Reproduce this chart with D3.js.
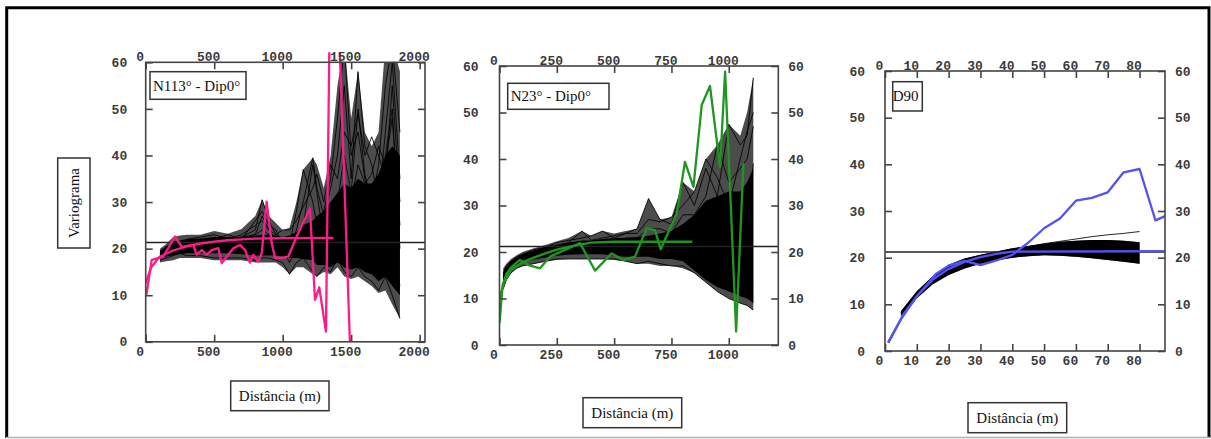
<!DOCTYPE html>
<html>
<head>
<meta charset="utf-8">
<script src="https://cdn.jsdelivr.net/npm/d3@7"></script>
<style>
  html, body { margin: 0; padding: 0; background: #fff; }
  svg { display: block; }
</style>
</head>
<body>
<div id="chart"></div>
<script>
// ---- DATA ----

// Panel 1: N113° - Dip0°
const p1Lags = [104, 150, 200, 250, 300, 400, 500, 600, 700, 800, 850, 900, 950, 1000, 1050, 1100, 1150, 1220, 1250, 1300, 1350, 1400, 1450, 1500, 1550, 1600, 1650, 1700, 1750, 1800, 1856];
const p1SpreadHigh = [20, 21, 22.5, 22.8, 23, 23, 23.8, 23.2, 24.2, 27, 30.5, 27, 25.5, 24, 24.5, 30, 37, 39.5, 38, 33, 40, 55, 64, 48, 58, 45, 42, 45, 64, 64, 58];
const p1SpreadLow = [17, 17.3, 17.5, 18, 18, 18, 17.5, 17.5, 17.5, 17, 17, 17, 17, 16, 14.5, 16, 16, 14.5, 14, 15, 14.5, 16, 14, 13.5, 14, 13, 12, 10.5, 11, 8, 5];
const p1CoreHigh = [19.5, 20.5, 21.5, 21.8, 22, 22.2, 22.5, 22.5, 22.5, 22.8, 23, 23, 22.8, 22.5, 22.8, 23.5, 25, 26, 27, 28, 30, 32, 34, 33, 35, 34, 34, 36, 40, 42, 40];
const p1CoreLow = [18, 18.3, 18.6, 18.8, 19, 19, 19, 19, 18.8, 18.5, 18.5, 18.5, 18.5, 18.3, 18, 18, 17.8, 17.5, 16.5, 16.5, 16, 17, 16, 15.5, 16, 15, 14.5, 13, 14, 12, 10];
const p1SimA = [18.5, 19.5, 20.5, 21, 21.5, 22, 22, 22, 22.5, 24, 30.5, 26, 23, 22, 21, 28, 37, 30, 25, 28, 35, 48, 64, 40, 45, 35, 30, 38, 55, 64, 45];
const p1SimB = [18, 19, 20, 21, 21.5, 21.5, 22, 23, 22, 26, 28, 25, 24, 21, 20, 24, 30, 39.5, 33, 27, 33, 40, 55, 35, 58, 42, 38, 30, 45, 60, 35];
const p1SimC = [19, 20, 21, 21.5, 21, 21, 21.5, 21, 21, 23, 27, 24, 22, 20, 17, 20, 25, 38, 32, 22, 26, 30, 40, 32, 50, 36, 30, 28, 40, 50, 20];
const p1SimD = [17.5, 18, 18.5, 19, 18.5, 18.5, 18, 18, 18, 17.5, 18, 18, 17.5, 17, 14.5, 17, 18, 15, 14, 16, 15, 18, 15, 14, 16, 14, 13, 11, 14, 10, 5];
const p1SimE = [19, 20, 21, 21, 22, 22.5, 23, 22, 23, 25, 26, 24, 23, 24, 24, 26, 29, 33, 36, 30, 38, 35, 45, 42, 49, 40, 44, 40, 35, 55, 30];
const p1SimF = [18, 19, 19.5, 20, 20.5, 20.5, 21, 21.5, 21, 22, 22, 22, 21, 22, 22, 22, 24, 25, 22, 25, 30, 28, 33, 30, 38, 34, 36, 42, 38, 48, 25];
const p1SimG = [18.5, 19.5, 20, 20.5, 21, 21.5, 22, 22, 22.5, 23, 24, 23, 22, 21, 19, 21, 22, 20, 18, 20, 24, 22, 20, 18, 22, 17, 20, 15, 25, 20, 12];
const p1Exp = [[5, 10.1], [44, 17.6], [128, 18.3], [214, 22.6], [263, 20.4], [347, 20.8], [372, 18.7], [409, 19.7], [445, 18.7], [482, 19.7], [530, 20.1], [555, 16.9], [603, 18.7], [640, 20.1], [688, 20.8], [725, 19.7], [761, 17], [785, 18.7], [822, 17.2], [847, 19], [883, 30.1], [920, 21.2], [944, 18], [993, 18], [1041, 18.3], [1102, 22.6], [1199, 28.6], [1236, 9], [1267, 11.7], [1316, 2.2], [1360, 111], [1520, -25]];
const p1Model = [[0, 12.6], [40, 16], [100, 18.2], [200, 19.6], [300, 20.5], [400, 21.1], [500, 21.5], [600, 21.8], [700, 22], [800, 22.15], [1000, 22.25], [1370, 22.3]];
const p1Sill = 21.3;
const p1XTicks = [0, 500, 1000, 1500, 2000];

// Panel 2: N23° - Dip0°
const p2Lags = [16, 30, 50, 75, 100, 150, 200, 250, 300, 360, 400, 450, 500, 550, 600, 650, 700, 750, 800, 850, 900, 950, 1000, 1050, 1080, 1107];
const p2SpreadHigh = [16.5, 17.5, 18.5, 19.3, 20, 20.8, 21.5, 22.3, 23, 24.5, 23.5, 24.5, 24, 24.5, 25, 31.5, 27, 27.5, 35, 33, 40, 43, 47.5, 45, 50, 57.5];
const p2SpreadLow = [12, 14, 15.5, 16.5, 17, 17.5, 18, 18.3, 18.5, 18.5, 18.5, 18.5, 18.3, 18, 17.5, 17.5, 17, 17, 16.5, 15.5, 13.5, 11.5, 10, 9, 8.5, 7.5];
const p2CoreHigh = [15.5, 16.8, 18, 18.8, 19.5, 20.3, 21, 21.5, 22, 22.5, 22.5, 22.8, 23, 23, 23.2, 23.5, 24, 24.5, 26, 28, 31, 32, 33, 33, 35, 38];
const p2CoreLow = [13, 15, 16.3, 17.2, 17.8, 18.4, 18.8, 19.2, 19.4, 19.5, 19.5, 19.5, 19.2, 19, 19, 19, 18.5, 18.5, 18, 16, 14, 12.5, 11.5, 10.5, 10, 9];
const p2SimA = [15, 16.5, 17.5, 18.5, 19, 20, 20.5, 21, 22, 24.5, 22.5, 23, 23.5, 24, 25, 31.5, 27, 26, 35, 30, 38, 32, 47.5, 43, 45, 57.5];
const p2SimB = [14, 16, 17, 18, 19, 20, 21, 22, 22.5, 23, 23.5, 24.5, 23, 24, 24, 27, 26.5, 27.5, 30, 33, 40, 36, 30, 40, 46, 50];
const p2SimC = [15.5, 17, 18, 19, 19.5, 20.5, 21, 21.5, 22, 22, 22, 22.5, 22, 23, 23, 25, 25, 24, 28, 28, 32, 43, 35, 38, 40, 47];
const p2SimD = [12, 14, 15.5, 16.5, 17, 17.5, 18, 18.5, 18.5, 18.5, 18.5, 18.5, 18.5, 18, 17.5, 18, 17.5, 17, 17, 15.5, 13.5, 11.5, 10, 9, 8.5, 7.5];
const p2SimE = [14.5, 16, 17.5, 18.5, 19, 19.5, 20, 20.5, 21, 21.5, 21.5, 21, 21, 22, 23, 22, 23, 21, 24, 22, 25, 20, 16, 12, 25, 39];
const p2Exp = [[0, 4.7], [14, 13], [31, 15.4], [53, 16.8], [89, 18.3], [126, 17.2], [177, 16.5], [220, 19], [351, 21.9], [417, 16], [489, 19.7], [540, 18.3], [591, 19], [642, 25.1], [678, 24.7], [703, 20.6], [773, 28.3], [809, 39.4], [846, 34], [882, 51.6], [918, 55.7], [962, 38.3], [984, 58.8], [1032, 2.9], [1064, 39.1]];
const p2Model = [[0, 10], [20, 13.5], [50, 16.2], [100, 17.8], [150, 18.8], [200, 19.7], [250, 20.5], [300, 21.1], [350, 21.6], [400, 22], [500, 22.2], [841, 22.2]];
const p2Sill = 21.2;
const p2XTicks = [0, 250, 500, 750, 1000];

// Panel 3: D90
const p3Lags = [5, 10, 15, 20, 25, 30, 35, 40, 45, 50, 55, 60, 65, 70, 75, 80];
const p3High = [8.5, 12.8, 16, 18.5, 19.8, 20.6, 21.3, 22, 22.5, 23, 23.4, 23.6, 23.8, 23.8, 23.6, 23.3];
const p3Low = [7.5, 11.3, 14.3, 16.3, 17.7, 18.7, 19.4, 20, 20.3, 20.5, 20.4, 20.2, 19.9, 19.5, 19.1, 18.7];
const p3Outlier = [8.3, 12.5, 15.8, 18.2, 19.6, 20.4, 21.1, 21.8, 22.4, 23, 23.5, 24, 24.5, 24.9, 25.2, 25.6];
const p3Exp = [[1, 1.8], [6, 8.1], [11, 12.5], [16, 16.5], [20, 18.3], [25, 19.3], [30, 18.4], [35, 19.4], [40, 20.6], [45, 23.2], [50, 26.3], [55, 28.4], [60, 32.2], [65, 32.8], [70, 34], [75, 38.3], [80, 39], [85, 28], [88, 28.9]];
const p3Model = [[1, 1.8], [5, 6.8], [10, 11.8], [15, 15.3], [20, 17.6], [25, 19.1], [30, 20.1], [35, 20.8], [40, 21.3], [88, 21.4]];
const p3Sill = 21.2;
const p3XTicks = [0, 10, 20, 30, 40, 50, 60, 70, 80];

const yTicks = [0, 10, 20, 30, 40, 50, 60];

(function() {
    const COLORS = {
        ink: "#000",
        axis: "#444",
        label: "#3a3a3a",
        pink: "#ff1a8c",
        green: "#1f961f",
        blue: "#5252f5"
    };

    const W = 1211, H = 439;
    const svg = d3.select("#chart").append("svg")
        .attr("width", W)
        .attr("height", H);

    // outer frame
    svg.append("path")
        .attr("d", `M6.7,438 L6.7,7.7 L1209,7.7 L1209,438`)
        .attr("fill", "none")
        .attr("stroke", COLORS.ink)
        .attr("stroke-width", 3);
    svg.append("line")
        .attr("x1", 6).attr("x2", 1210).attr("y1", 437.5).attr("y2", 437.5)
        .attr("stroke", "#b0b0b0").attr("stroke-width", 1.5);

    const panels = [
        {
            id: "p1", left: 145.7, top: 62.3, width: 279.3, height: 279.5, xMax: 2039,
            xTicks: p1XTicks, padLeft: 18.5, rightLabels: false,
            lags: p1Lags, spreadHigh: p1SpreadHigh, spreadLow: p1SpreadLow,
            coreHigh: p1CoreHigh, coreLow: p1CoreLow,
            sims: [p1SimA, p1SimB, p1SimC, p1SimD, p1SimE, p1SimF, p1SimG],
            sill: p1Sill, exp: p1Exp, model: p1Model, color: COLORS.pink, colorClipTop: 10,
            title: "N113° - Dip0°", titleBox: [150, 71.7, 96, 27.6],
            xBox: [230.7, 381, 98.3, 29.7]
        },
        {
            id: "p2", left: 499.5, top: 66, width: 278.8, height: 279, xMax: 1216,
            xTicks: p2XTicks, padLeft: 21, rightLabels: true,
            lags: p2Lags, spreadHigh: p2SpreadHigh, spreadLow: p2SpreadLow,
            coreHigh: p2CoreHigh, coreLow: p2CoreLow,
            sims: [p2SimA, p2SimB, p2SimC, p2SimD, p2SimE],
            sill: p2Sill, exp: p2Exp, model: p2Model, color: COLORS.green, colorClipTop: 0,
            title: "N23° - Dip0°", titleBox: [507.7, 83.3, 101.3, 26],
            xBox: [583, 397.7, 98.7, 30]
        },
        {
            id: "p3", left: 885, top: 71, width: 280, height: 280, xMax: 88,
            xTicks: p3XTicks, padLeft: 20, rightLabels: true,
            lags: p3Lags, spreadHigh: p3High, spreadLow: p3Low,
            coreHigh: p3High, coreLow: p3Low,
            sims: [p3Outlier],
            sill: p3Sill, exp: p3Exp, model: p3Model, color: COLORS.blue, colorClipTop: 0,
            title: "D90", titleBox: [892.7, 81.7, 29.6, 29.3],
            xBox: [968, 402.7, 98.7, 30]
        }
    ];

    panels.forEach(drawPanel);

    // y-axis label box
    svg.append("rect")
        .attr("x", 57.7).attr("y", 158).attr("width", 32.3).attr("height", 90)
        .attr("fill", "#fff").attr("stroke", "#333").attr("stroke-width", 1.5);
    svg.append("text")
        .attr("transform", "translate(79,203) rotate(-90)")
        .attr("text-anchor", "middle")
        .attr("font-family", "Liberation Serif")
        .attr("font-size", 15)
        .attr("fill", "#111")
        .text("Variograma");

    function drawPanel(p) {
        const g = svg.append("g")
            .attr("transform", `translate(${p.left},${p.top})`);

        const x = d3.scaleLinear().domain([0, p.xMax]).range([0, p.width]);
        const y = d3.scaleLinear().domain([0, 60]).range([p.height, 0]);

        g.append("clipPath").attr("id", `clip-${p.id}`)
            .append("rect").attr("width", p.width).attr("height", p.height);
        g.append("clipPath").attr("id", `clipc-${p.id}`)
            .append("rect").attr("y", -p.colorClipTop)
            .attr("width", p.width).attr("height", p.height + p.colorClipTop);

        const plot = g.append("g").attr("clip-path", `url(#clip-${p.id})`);

        const band = (lo, hi) => d3.area()
            .x((d, i) => x(p.lags[i]))
            .y0((d, i) => y(lo[i]))
            .y1((d, i) => y(hi[i]))(p.lags);

        // simulated variograms: outer spread, dense core, single curves
        plot.append("path")
            .attr("d", band(p.spreadLow, p.spreadHigh))
            .attr("fill", COLORS.ink)
            .attr("fill-opacity", 0.7);

        plot.append("path")
            .attr("d", band(p.coreLow, p.coreHigh))
            .attr("fill", COLORS.ink);

        const simLine = d3.line()
            .x((d, i) => x(p.lags[i]))
            .y(d => y(d));

        plot.selectAll("path.sim")
            .data(p.sims)
            .join("path")
            .attr("class", "sim")
            .attr("d", simLine)
            .attr("fill", "none")
            .attr("stroke", COLORS.ink)
            .attr("stroke-width", 1)
            .attr("stroke-opacity", 0.85);

        // sill
        plot.append("line")
            .attr("x1", 0).attr("x2", p.width)
            .attr("y1", y(p.sill)).attr("y2", y(p.sill))
            .attr("stroke", "#222")
            .attr("stroke-width", 1.5);

        const pts = d3.line().x(d => x(d[0])).y(d => y(d[1]));
        const col = g.append("g").attr("clip-path", `url(#clipc-${p.id})`);
        col.append("path")
            .attr("d", pts(p.model))
            .attr("fill", "none")
            .attr("stroke", p.color)
            .attr("stroke-width", 2.3);
        col.append("path")
            .attr("d", pts(p.exp))
            .attr("fill", "none")
            .attr("stroke", p.color)
            .attr("stroke-width", 2.3)
            .attr("stroke-linejoin", "round");

        // frame
        g.append("rect")
            .attr("width", p.width).attr("height", p.height)
            .attr("fill", "none")
            .attr("stroke", COLORS.axis)
            .attr("stroke-width", 1.6);

        const styleAxis = sel => {
            sel.select(".domain").remove();
            sel.selectAll(".tick line").attr("stroke", COLORS.axis).attr("stroke-width", 1.6);
            sel.selectAll(".tick text")
                .attr("font-family", "Liberation Mono")
                .attr("font-weight", "bold")
                .attr("font-size", 13)
                .attr("fill", COLORS.label);
        };

        const fmt = d3.format("d");

        g.append("g")
            .call(d3.axisLeft(y).tickValues(yTicks).tickSize(-7).tickPadding(p.padLeft).tickFormat(fmt))
            .call(styleAxis);

        g.append("g")
            .attr("transform", `translate(${p.width},0)`)
            .call(d3.axisRight(y).tickValues(yTicks).tickSize(-7).tickPadding(10)
                .tickFormat(p.rightLabels ? fmt : ""))
            .call(styleAxis);

        g.append("g")
            .call(d3.axisTop(x).tickValues(p.xTicks).tickSize(-7).tickPadding(1).tickFormat(fmt))
            .call(styleAxis)
            .selectAll(".tick text").attr("dx", -6);

        g.append("g")
            .attr("transform", `translate(0,${p.height})`)
            .call(d3.axisBottom(x).tickValues(p.xTicks).tickSize(-7).tickPadding(5).tickFormat(fmt))
            .call(styleAxis)
            .selectAll(".tick text").attr("dx", -6);

        // title box
        const [tx, ty, tw, th] = p.titleBox;
        svg.append("rect")
            .attr("x", tx).attr("y", ty).attr("width", tw).attr("height", th)
            .attr("fill", "#fff").attr("stroke", "#333").attr("stroke-width", 1.5);
        svg.append("text")
            .attr("x", tx + (p.id === "p3" ? 0 : 3)).attr("y", ty + th / 2 + 5)
            .attr("font-family", "Liberation Serif")
            .attr("font-size", 15)
            .attr("fill", "#111")
            .text(p.title);

        // x label box
        const [bx, by, bw, bh] = p.xBox;
        svg.append("rect")
            .attr("x", bx).attr("y", by).attr("width", bw).attr("height", bh)
            .attr("fill", "#fff").attr("stroke", "#333").attr("stroke-width", 1.5);
        svg.append("text")
            .attr("x", bx + bw / 2).attr("y", by + bh / 2 + 5)
            .attr("text-anchor", "middle")
            .attr("font-family", "Liberation Serif")
            .attr("font-size", 15)
            .attr("fill", "#111")
            .text("Distância (m)");
    }
})();
</script>
</body>
</html>
